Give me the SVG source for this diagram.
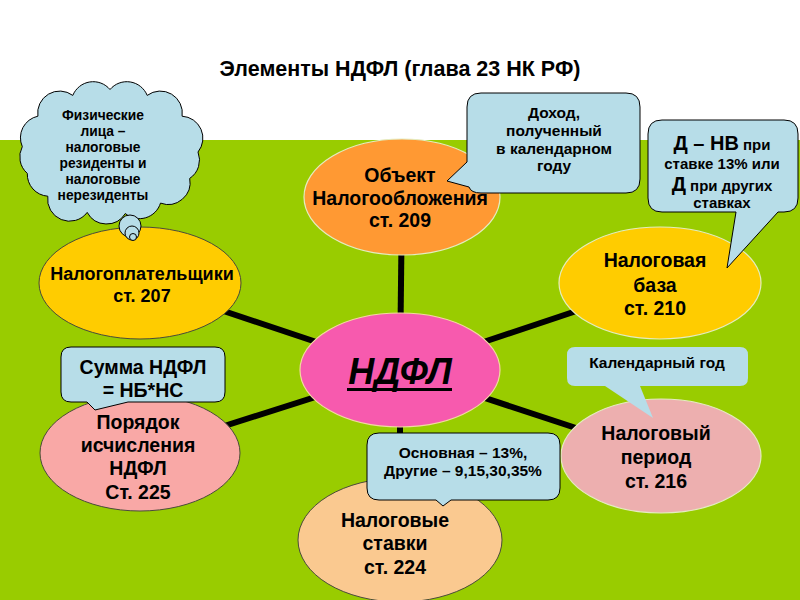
<svg xmlns="http://www.w3.org/2000/svg" width="800" height="600" viewBox="0 0 800 600">
<style>
text{font-family:"Liberation Sans",Arial,sans-serif;font-weight:bold;fill:#000;text-anchor:middle}
.n{font-size:19.5px}
.c{font-size:15.5px}
.s{font-size:13.8px}
.callout{fill:#B7DDE8;stroke:#000;stroke-width:1}
.conn{stroke:#000;stroke-width:6;fill:none}
.pale{stroke:#E4ECC0;stroke-width:1.2}
.dark{stroke:#4A4A3A;stroke-width:1}
</style>
<rect x="0" y="0" width="800" height="600" fill="#FFFFFF"/>
<rect x="0" y="140" width="800" height="460" fill="#99CC00"/>
<text x="400" y="76" style="font-size:21.5px">Элементы  НДФЛ (глава 23 НК РФ)</text>

<g id="connectors">
<line class="conn" x1="400" y1="370" x2="402" y2="197"/>
<line class="conn" x1="400" y1="370" x2="140" y2="283"/>
<line class="conn" x1="400" y1="370" x2="660" y2="283"/>
<line class="conn" x1="400" y1="370" x2="140" y2="453"/>
<line class="conn" x1="400" y1="370" x2="661" y2="456"/>
<line class="conn" x1="400" y1="370" x2="400" y2="537"/>
</g>

<g id="node-object">
<ellipse cx="402" cy="197" rx="98" ry="58" fill="#FF9933" class="pale"/>
<text class="n" x="400" y="182">Объект</text>
<text class="n" x="400" y="205">Налогообложения</text>
<text class="n" x="400" y="227">ст. 209</text>
</g>

<g id="node-payers">
<ellipse cx="140" cy="283" rx="101" ry="56" fill="#FFCC00" class="dark"/>
<text x="142" y="280" style="font-size:18px">Налогоплательщики</text>
<text x="142" y="302" style="font-size:18px">ст. 207</text>
</g>

<g id="node-base">
<ellipse cx="660" cy="283" rx="101" ry="56" fill="#FFCC00" class="pale"/>
<text class="n" x="655" y="267">Налоговая</text>
<text class="n" x="655" y="292">база</text>
<text class="n" x="655" y="315">ст. 210</text>
</g>

<g id="node-order">
<ellipse cx="140" cy="453" rx="100" ry="58" fill="#F9A8A6" class="dark"/>
<text class="n" x="138" y="429">Порядок</text>
<text class="n" x="138" y="452">исчисления</text>
<text class="n" x="138" y="475">НДФЛ</text>
<text class="n" x="138" y="499">Ст. 225</text>
</g>

<g id="node-period">
<ellipse cx="661" cy="456" rx="100" ry="57" fill="#EDAFAF" class="pale"/>
<text class="n" x="656" y="440">Налоговый</text>
<text class="n" x="656" y="464">период</text>
<text class="n" x="656" y="488">ст. 216</text>
</g>

<g id="node-rates">
<ellipse cx="400" cy="540" rx="102" ry="62" fill="#FAC990" class="dark"/>
<text class="n" x="395" y="527">Налоговые</text>
<text class="n" x="395" y="550">ставки</text>
<text class="n" x="395" y="574">ст. 224</text>
</g>

<g id="node-ndfl">
<ellipse cx="400" cy="370" rx="100" ry="57" fill="#F75AAE" stroke="#F2D9A0" stroke-width="1.2"/>
<text x="400" y="384" style="font-size:36px;font-style:italic">НДФЛ</text>
<line x1="347" y1="389.5" x2="452" y2="389.5" stroke="#000" stroke-width="3"/>
</g>

<g id="callout-payers">
<path class="callout" d="M198,152 A22,22 0 0 1 189.7,178.4 A22,22 0 0 1 160.5,203.1 A22,22 0 0 1 125.3,213.5 A22,22 0 0 1 87.2,212.4 A22,22 0 0 1 47.8,196.2 A22,22 0 0 1 27.3,173.4 A22,22 0 0 1 22.3,146.6 A22,22 0 0 1 37.9,116.2 A22,22 0 0 1 72.8,95.4 A22,22 0 0 1 110,89.5 A22,22 0 0 1 147.2,95.4 A22,22 0 0 1 182.1,116.2 A22,22 0 0 1 198,152 Z"/>
<circle class="callout" cx="130" cy="226" r="11"/>
<circle class="callout" cx="132" cy="233" r="7"/>
<circle class="callout" cx="133" cy="237" r="3.5"/>
<text class="s" x="103" y="120">Физические</text>
<text class="s" x="103" y="136">лица –</text>
<text class="s" x="103" y="152">налоговые</text>
<text class="s" x="103" y="168">резиденты и</text>
<text class="s" x="103" y="184">налоговые</text>
<text class="s" x="103" y="200">нерезиденты</text>
</g>

<g id="callout-object">
<path class="callout" d="M481,93 H626 Q640,93 640,107 V179 Q640,193 626,193 H481 Q471,193 469,187 L447,181 L467,162 V107 Q467,93 481,93 Z"/>
<text class="c" x="554" y="118">Доход,</text>
<text class="c" x="554" y="136">полученный</text>
<text class="c" x="554" y="154">в календарном</text>
<text class="c" x="554" y="171">году</text>
</g>

<g id="callout-base">
<path class="callout" d="M662,120 H784 Q798,120 798,134 V198 Q798,212 784,212 H778 L727,268 L736,212 H662 Q648,212 648,198 V134 Q648,120 662,120 Z"/>
<text x="722" y="150" style="font-size:15px"><tspan style="font-size:20px">Д – НВ</tspan> при</text>
<text x="722" y="169" style="font-size:15px">ставке 13% или</text>
<text x="722" y="191" style="font-size:15px"><tspan style="font-size:20px">Д</tspan> при других</text>
<text x="722" y="208" style="font-size:15px">ставках</text>
</g>

<g id="callout-order">
<path class="callout" d="M71,347 H215 Q225,347 225,357 V392 Q225,402 215,402 H128 L95,410 L87,402 H71 Q61,402 61,392 V357 Q61,347 71,347 Z" stroke="#333"/>
<text x="143" y="374" style="font-size:19.5px">Сумма НДФЛ</text>
<text x="143" y="397" style="font-size:19.5px">= НБ*НС</text>
</g>

<g id="callout-period">
<path d="M575,347 H740 Q748,347 748,355 V378 Q748,386 740,386 H640 L653,418 L605,386 H575 Q567,386 567,378 V355 Q567,347 575,347 Z" fill="#B7DDE8"/>
<text x="657" y="368" style="font-size:15.5px">Календарный год</text>
</g>

<g id="callout-rates">
<path class="callout" d="M379,433 H548 Q560,433 560,445 V488 Q560,500 548,500 H451 L443,506 L436,500 H379 Q367,500 367,488 V445 Q367,433 379,433 Z"/>
<text x="463" y="458" style="font-size:15.5px">Основная – 13%,</text>
<text x="463" y="476" style="font-size:15.5px">Другие – 9,15,30,35%</text>
</g>
</svg>
